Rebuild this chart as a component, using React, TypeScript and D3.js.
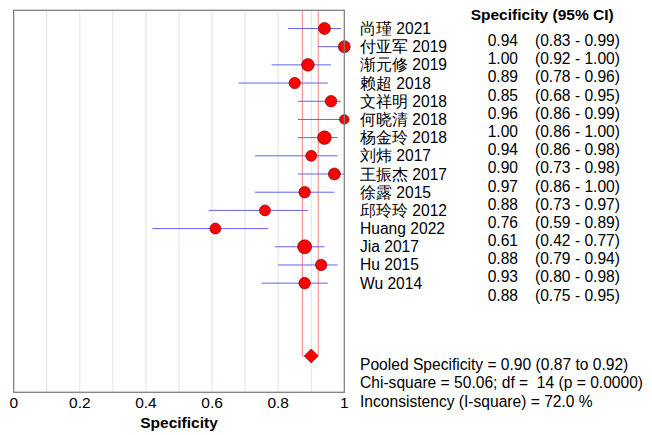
import React from "react";
import * as d3 from "d3";

const studies = ["尚瑾 2021","付亚军 2019","渐元修 2019","赖超 2018","文祥明 2018","何晓清 2018","杨金玲 2018","刘炜 2017","王振杰 2017","徐露 2015","邱玲玲 2012","Huang 2022","Jia 2017","Hu 2015","Wu 2014"];
const spec = [0.94,1.00,0.89,0.85,0.96,1.00,0.94,0.90,0.97,0.88,0.76,0.61,0.88,0.93,0.88];
const lower = [0.83,0.92,0.78,0.68,0.86,0.86,0.86,0.73,0.86,0.73,0.59,0.42,0.79,0.80,0.75];
const upper = [0.99,1.00,0.96,0.95,0.99,1.00,0.98,0.98,1.00,0.97,0.89,0.77,0.94,0.98,0.95];
const weights = [6,6,6.3,5.7,5.8,4.8,6.8,5.5,6,5.8,5.5,5.5,7,5.7,5.8];
const pooled = 0.90;
const pooledLo = 0.873;
const pooledHi = 0.921;
const xTicks = [0,0.2,0.4,0.6,0.8,1];
const gridVals = [0.1,0.2,0.3,0.4,0.5,0.6,0.7,0.8,0.9];
const footer = ["Pooled Specificity = 0.90 (0.87 to 0.92)","Chi-square = 50.06; df =  14 (p = 0.0000)","Inconsistency (I-square) = 72.0 %"];

const FONT = "'Liberation Sans', Arial, sans-serif";

export default function App() {
  const x = d3.scaleLinear().domain([0, 1]).range([13.7, 344.3]);
  const y = d3.scaleLinear().domain([-1, 20]).range([10.3, 392.3]);
  const fmt = d3.format(".2f");
  const dy = y(18);
  const dx = x(pooled);
  return (
    <svg width={652} height={435} style={{ position: "absolute", left: 0, top: 0 }} fontFamily={FONT}>
      <rect x={0} y={0} width={652} height={435} fill="#fff" />
      {gridVals.map((g) => (
        <line key={g} x1={x(g)} x2={x(g)} y1={y(-1)} y2={y(20)} stroke="#e2e2e2" strokeWidth={1} />
      ))}
      <path
        d={`M${x(pooledLo)},${y(-1)}V${dy}H${x(pooledHi)}V${y(-1)}`}
        fill="none" stroke="#f08080" strokeWidth={1}
      />
      {studies.map((s, i) => (
        <g key={s}>
          <line x1={x(lower[i])} x2={x(upper[i])} y1={y(i)} y2={y(i)} stroke="#6464f0" strokeWidth={1} />
          <circle cx={x(spec[i])} cy={y(i)} r={weights[i]} fill="#ff0000" stroke="#5a0000" strokeWidth={0.6} />
        </g>
      ))}
      <path
        d={`M${dx - 7},${dy}L${dx},${dy - 7}L${dx + 7},${dy}L${dx},${dy + 7}Z`}
        fill="#ff0000" stroke="#5a0000" strokeWidth={0.6}
      />
      <rect x={x(0)} y={y(-1)} width={x(1) - x(0)} height={y(20) - y(-1)} fill="none" stroke="#808080" strokeWidth={1.3} />
      {xTicks.map((t) => (
        <text key={t} x={x(t)} y={407.8} fontSize={15.5} textAnchor="middle" fill="#000">{d3.format("~g")(t)}</text>
      ))}
      <text x={(x(0) + x(1)) / 2} y={427.5} fontSize={15.5} fontWeight="bold" textAnchor="middle">Specificity</text>
      <text x={470.7} y={19.5} fontSize={15.5} fontWeight="bold">Specificity (95% CI)</text>
      {studies.map((s, i) => (
        <text key={s} x={360} y={y(i) + 5.5} fontSize={15.6}>{s}</text>
      ))}
      {spec.map((v, i) => (
        <g key={i}>
          <text x={487.7} y={y(i) + 17.5} fontSize={15.6}>{fmt(v)}</text>
          <text x={535} y={y(i) + 17.5} fontSize={15.6}>{`(${fmt(lower[i])} - ${fmt(upper[i])})`}</text>
        </g>
      ))}
      {footer.map((f, i) => (
        <text key={i} x={360} y={370 + i * 18.3} fontSize={15.6} style={{ whiteSpace: "pre" }}>{f}</text>
      ))}
    </svg>
  );
}
